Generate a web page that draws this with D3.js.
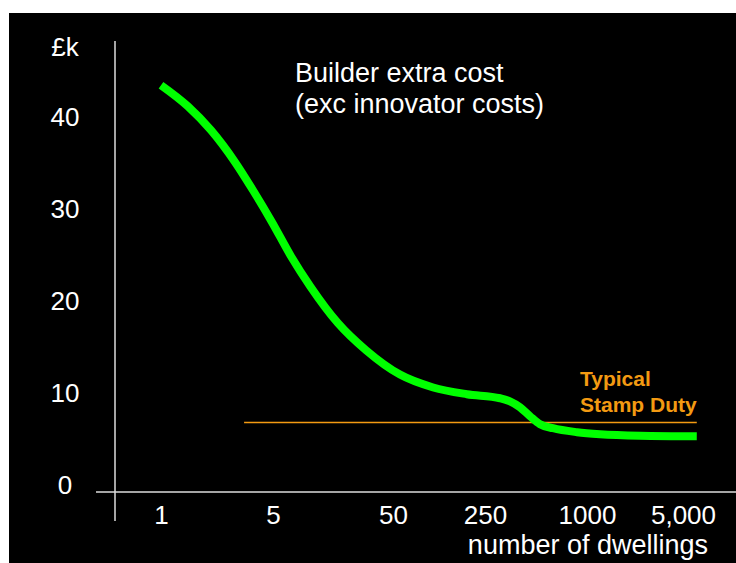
<!DOCTYPE html>
<html>
<head>
<meta charset="utf-8">
<script src="https://cdn.jsdelivr.net/npm/d3@7"></script>
<style>
body{margin:0;background:#fff;}
svg{display:block;font-family:"Liberation Sans",Arial,sans-serif;}
</style>
</head>
<body>
<svg width="736" height="563"></svg>
<script>
//数据
var xTicks=[1,5,50,250,1000,5000];
var xLabels=["1","5","50","250","1000","5,000"];
var yTicks=[0,10,20,30,40];
//曲线: 住宅数量 / 成本(£k)
var dwellings=[1,1.47,2.05,2.9,3.75,4.93,7.06,10.2,17.4,29.8,56.5,101,182,307,351,402,461,528,630,873,1243,2430,6300];
var cost=[43.46,41.17,38.57,35.09,32.04,28.57,24.87,21.61,17.59,14.65,12.0,10.6,9.87,9.43,9.1,8.46,7.48,6.61,6.17,5.74,5.52,5.36,5.3];
//印花税
var stampDuty=6.8;
var stampFrom=3.3, stampTo=6300;

var svg=d3.select("svg");
//背景
svg.append("rect").attr("x",9).attr("y",13).attr("width",727).attr("height",550).attr("fill","#000");

//比例尺 (标签位置不是严格对数，用分段对数)
var x=d3.scaleLog()
    .domain(xTicks)
    .range([161,273,393,485,587,683]);
var y=d3.scaleLinear()
    .domain([0,40])
    .range([485,117]);

var axisX=492, axisLeft=115;

//坐标轴线
svg.append("line").attr("x1",axisLeft).attr("x2",axisLeft).attr("y1",41).attr("y2",521)
    .attr("stroke","#ddd").attr("stroke-width",1.5);
svg.append("line").attr("x1",96).attr("x2",736).attr("y1",axisX).attr("y2",axisX)
    .attr("stroke","#ddd").attr("stroke-width",1.5);

//x轴
var gx=svg.append("g")
    .attr("transform","translate(0,"+axisX+")")
    .call(d3.axisBottom(x).tickValues(xTicks).tickSize(0).tickPadding(14)
        .tickFormat(function(d,i){return xLabels[i];}));
gx.select(".domain").remove();
gx.selectAll("text").attr("fill","#fff").attr("font-size",26).attr("font-family",null);

//y轴
var gy=svg.append("g")
    .attr("transform","translate("+axisLeft+",0)")
    .call(d3.axisLeft(y).tickValues(yTicks).tickSize(0));
gy.select(".domain").remove();
gy.selectAll("text").attr("fill","#fff").attr("font-size",26).attr("font-family",null)
    .attr("text-anchor","middle").attr("x",-50);

svg.append("text").attr("x",65).attr("y",56).attr("text-anchor","middle")
    .attr("fill","#fff").attr("font-size",26).text("£k");
svg.append("text").attr("x",708).attr("y",554).attr("text-anchor","end")
    .attr("fill","#fff").attr("font-size",27).text("number of dwellings");

//标题
svg.append("text").attr("x",295).attr("y",82).attr("fill","#fff").attr("font-size",27).text("Builder extra cost");
svg.append("text").attr("x",295).attr("y",113).attr("fill","#fff").attr("font-size",27).text("(exc innovator costs)");

//印花税线
svg.append("line")
    .attr("x1",x(stampFrom)).attr("x2",x(stampTo))
    .attr("y1",y(stampDuty)).attr("y2",y(stampDuty))
    .attr("stroke","#f39a12").attr("stroke-width",1.5);
svg.append("text").attr("x",580).attr("y",386).attr("fill","#f39a12")
    .attr("font-size",21).attr("font-weight","bold").text("Typical");
svg.append("text").attr("x",580).attr("y",412).attr("fill","#f39a12")
    .attr("font-size",21).attr("font-weight","bold").text("Stamp Duty");

//曲线
var data=dwellings.map(function(d,i){return {n:d,v:cost[i]};});
var line=d3.line()
    .x(function(d){return x(d.n);})
    .y(function(d){return y(d.v);})
    .curve(d3.curveMonotoneX);
svg.append("path")
    .datum(data)
    .attr("fill","none")
    .attr("stroke","#00ff00")
    .attr("stroke-width",8)
    .attr("stroke-linejoin","round")
    .attr("d",line);
</script>
</body>
</html>
